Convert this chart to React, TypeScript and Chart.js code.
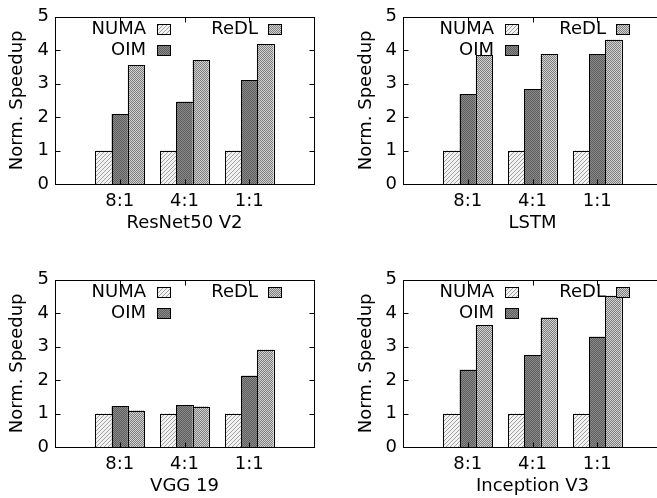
import React, { useEffect, useRef } from "react";
import { Chart, registerables } from "chart.js";

Chart.register(...registerables);

// ---- data ----
const ratios = ["8:1", "4:1", "1:1"];
const seriesNames = ["NUMA", "OIM", "ReDL"];
const yTicks = [0, 1, 2, 3, 4, 5];
const yLabel = "Norm. Speedup";

const resnetNUMA = [1, 1, 1];
const resnetOIM = [2.09, 2.46, 3.1];
const resnetReDL = [3.55, 3.7, 4.19];

const lstmNUMA = [1, 1, 1];
const lstmOIM = [2.69, 2.83, 3.88];
const lstmReDL = [3.85, 3.88, 4.31];

const vggNUMA = [1, 1, 1];
const vggOIM = [1.22, 1.25, 2.13];
const vggReDL = [1.09, 1.21, 2.91];

const inceptionNUMA = [1, 1, 1];
const inceptionOIM = [2.31, 2.75, 3.3];
const inceptionReDL = [3.65, 3.87, 4.52];

const FONT = "DejaVu Sans";

function makeTile(size: number, draw: (c: CanvasRenderingContext2D) => void) {
  const t = document.createElement("canvas");
  t.width = size;
  t.height = size;
  const c = t.getContext("2d")!;
  draw(c);
  return t;
}

function makePatterns(ctx: CanvasRenderingContext2D) {
  const numa = makeTile(4, (c) => {
    c.fillStyle = "#f2f2f2";
    c.fillRect(0, 0, 4, 4);
    c.fillStyle = "#a0a0a0";
    for (let i = 0; i < 4; i++) c.fillRect(i, 3 - i, 1, 1);
  });
  const oim = makeTile(2, (c) => {
    c.fillStyle = "#8a8a8a";
    c.fillRect(0, 0, 2, 2);
    c.fillStyle = "#5e5e5e";
    c.fillRect(0, 0, 1, 1);
    c.fillRect(1, 1, 1, 1);
  });
  const redl = makeTile(2, (c) => {
    c.fillStyle = "#d2d2d2";
    c.fillRect(0, 0, 2, 2);
    c.fillStyle = "#7e7e7e";
    c.fillRect(0, 0, 1, 1);
    c.fillRect(1, 1, 1, 1);
  });
  return [
    ctx.createPattern(numa, "repeat"),
    ctx.createPattern(oim, "repeat"),
    ctx.createPattern(redl, "repeat"),
  ];
}

// frame, inward ticks and bar outlines (gnuplot look)
const framePlugin = {
  id: "gpFrame",
  afterDatasetsDraw(chart: any) {
    const ctx: CanvasRenderingContext2D = chart.ctx;
    const { left, right, top, bottom } = chart.chartArea;
    ctx.save();
    ctx.strokeStyle = "#000";
    ctx.lineWidth = 1;
    // bar outlines
    chart.data.datasets.forEach((ds: any, i: number) => {
      const meta = chart.getDatasetMeta(i);
      meta.data.forEach((el: any, j: number) => {
        if (ds.data[j] === null || ds.data[j] === undefined) return;
        const p = el.getProps(["x", "y", "base", "width"], true);
        if (!Number.isFinite(p.y) || !Number.isFinite(p.x)) return;
        const l = Math.round(p.x - p.width / 2) + 0.5;
        const r = Math.round(p.x + p.width / 2) + 0.5;
        const t = Math.round(p.y) + 0.5;
        const b = Math.round(p.base) + 0.5;
        ctx.strokeRect(l, t, r - l, b - t);
      });
    });
    // frame
    const L = Math.round(left) + 0.5;
    const R = Math.round(right) + 0.5;
    const T = Math.round(top) + 0.5;
    const B = Math.round(bottom) + 0.5;
    ctx.strokeRect(L, T, R - L, B - T);
    // inward ticks
    const ys = chart.scales.y;
    const xs = chart.scales.x;
    ctx.beginPath();
    yTicks.forEach((v) => {
      const py = Math.round(ys.getPixelForValue(v)) + 0.5;
      ctx.moveTo(L, py);
      ctx.lineTo(L + 5, py);
      ctx.moveTo(R, py);
      ctx.lineTo(R - 5, py);
    });
    ratios.forEach((_r, i) => {
      const px = Math.round(xs.getPixelForValue(i + 1)) + 0.5;
      ctx.moveTo(px, B);
      ctx.lineTo(px, B - 5);
      ctx.moveTo(px, T);
      ctx.lineTo(px, T + 5);
    });
    ctx.stroke();
    ctx.restore();
  },
};

// gnuplot-style key: two columns, text right-aligned before the sample box
const legendLayout = [
  { ds: 0, textRight: 91, boxLeft: 102, row: 12 },
  { ds: 2, textRight: 203, boxLeft: 213, row: 12 },
  { ds: 1, textRight: 91, boxLeft: 102, row: 33 },
];

const legendPlugin = {
  id: "gpLegend",
  afterDatasetsDraw(chart: any) {
    const ctx: CanvasRenderingContext2D = chart.ctx;
    const { left, top } = chart.chartArea;
    ctx.save();
    ctx.font = `18px "${FONT}"`;
    ctx.textAlign = "right";
    ctx.textBaseline = "middle";
    ctx.lineWidth = 1;
    ctx.strokeStyle = "#000";
    legendLayout.forEach((e) => {
      const ds = chart.data.datasets[e.ds];
      const cy = top + e.row;
      ctx.fillStyle = "#000";
      ctx.fillText(ds.label, left + e.textRight, cy + 1);
      const bx = Math.round(left + e.boxLeft) + 0.5;
      const by = Math.round(cy - 5) + 0.5;
      ctx.fillStyle = ds.backgroundColor;
      ctx.fillRect(bx, by, 13, 10);
      ctx.strokeRect(bx, by, 13, 10);
    });
    ctx.restore();
  },
};

type PanelProps = {
  title: string;
  values: number[][];
  left: number;
  top: number;
  width: number;
  axisWidth: number;
  rightPad: number;
  titlePad: number;
};

function Panel({ title, values, left, top, width, axisWidth, rightPad, titlePad }: PanelProps) {
  const ref = useRef<HTMLCanvasElement>(null);
  useEffect(() => {
    const canvas = ref.current!;
    const ctx = canvas.getContext("2d")!;
    const patterns = makePatterns(ctx);
    const font = { family: FONT, size: 18 };
    const chart = new Chart(canvas, {
      type: "bar",
      data: {
        labels: ["", ...ratios, ""],
        datasets: seriesNames.map((name, i) => ({
          label: name,
          data: [null, ...values[i], null],
          backgroundColor: patterns[i] as any,
          borderWidth: 0,
          categoryPercentage: 0.75,
          barPercentage: 1,
        })),
      },
      options: {
        animation: false,
        responsive: false,
        maintainAspectRatio: false,
        layout: { padding: { left: 0, top: 15, right: rightPad, bottom: 0 } },
        plugins: { legend: { display: false }, tooltip: { enabled: false } },
        scales: {
          x: {
            type: "category",
            offset: false,
            grid: { display: false, drawTicks: false, tickLength: 0 },
            border: { display: false },
            ticks: { color: "#000", font, padding: 7, autoSkip: false, maxRotation: 0, minRotation: 0 },
            title: { display: true, text: title, color: "#000", font, padding: { top: 0, bottom: 16 } },
            afterFit: (s: any) => {
              s.height = 66;
            },
          },
          y: {
            min: 0,
            max: 5,
            grid: { display: false, drawTicks: false, tickLength: 0 },
            border: { display: false },
            ticks: { color: "#000", font, padding: 6, stepSize: 1 },
            afterBuildTicks: (s: any) => {
              s.ticks = yTicks.map((v) => ({ value: v }));
            },
            title: { display: true, text: yLabel, color: "#000", font, padding: { top: titlePad, bottom: 0 } },
            afterFit: (s: any) => {
              s.width = axisWidth;
            },
          },
        },
      } as any,
      plugins: [framePlugin, legendPlugin],
    });
    return () => chart.destroy();
  }, []);
  return (
    <canvas
      ref={ref}
      width={width}
      height={250}
      style={{ position: "absolute", left, top, width, height: 250 }}
    />
  );
}

const panels: PanelProps[] = [
  { title: "ResNet50 V2", values: [resnetNUMA, resnetOIM, resnetReDL], left: 0, top: 0, width: 330, axisWidth: 55, rightPad: 16, titlePad: 7 },
  { title: "LSTM", values: [lstmNUMA, lstmOIM, lstmReDL], left: 330, top: 0, width: 340, axisWidth: 73, rightPad: 8, titlePad: 26 },
  { title: "VGG 19", values: [vggNUMA, vggOIM, vggReDL], left: 0, top: 263, width: 330, axisWidth: 55, rightPad: 16, titlePad: 7 },
  { title: "Inception V3", values: [inceptionNUMA, inceptionOIM, inceptionReDL], left: 330, top: 263, width: 340, axisWidth: 73, rightPad: 8, titlePad: 26 },
];

export default function App() {
  return (
    <div
      style={{
        position: "absolute",
        left: 0,
        top: 0,
        width: 657,
        height: 498,
        overflow: "hidden",
        background: "#fff",
      }}
    >
      {panels.map((p) => (
        <Panel key={p.title} {...p} />
      ))}
    </div>
  );
}
